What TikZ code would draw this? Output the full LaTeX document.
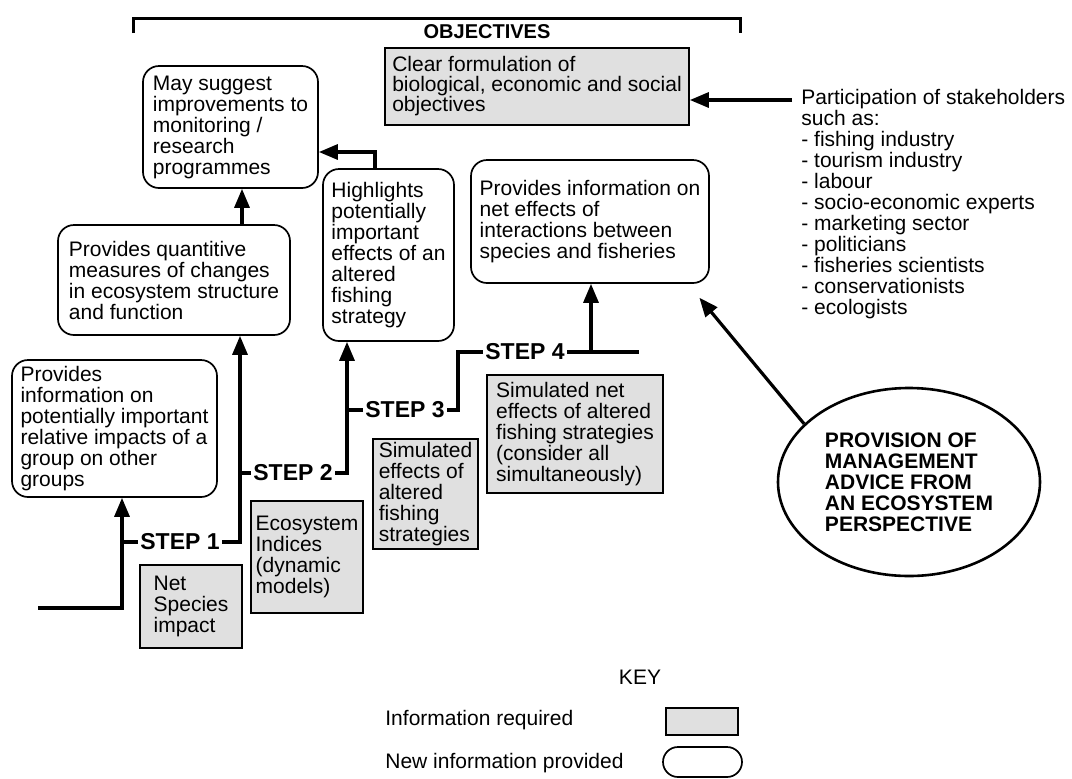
\documentclass[tikz,border=0pt]{standalone}
\usepackage{fontspec}
\setmainfont{Liberation Sans}
\usetikzlibrary{arrows.meta,shapes.geometric}

\begin{document}
\begin{tikzpicture}[
  x=0.5pt, y=-0.5pt,
  font=\fontsize{10.5}{10.5}\selectfont,
  newinfo/.style={draw, line width=0.85pt, rounded corners=8pt, align=left, inner sep=1pt},
  needinfo/.style={draw, line width=0.85pt, fill=black!12, align=left, inner sep=1pt},
  steplabel/.style={font=\fontsize{11.5}{12}\selectfont\bfseries, inner sep=1pt},
  link/.style={line width=1.6pt},
  flow/.style={link, -{Triangle[length=9.5pt,width=7.5pt]}}
]
\useasboundingbox (0,0) rectangle (1072,778);

% objectives bracket
\draw[line width=1.5pt] (133,33) |- (740,18) -- (740,33);
\node[font=\fontsize{10}{10}\selectfont\bfseries] (objtitle) at (487,32) {OBJECTIVES};

% new information (rounded boxes)
\node[newinfo, minimum width=87.5pt, minimum height=61pt] (improve) at (230.5,127)
  {May suggest\\improvements to\\monitoring /\\research\\programmes};
\node[newinfo, minimum width=116pt, minimum height=55pt] (quant) at (174,280)
  {Provides quantitive\\measures of changes\\in ecosystem structure\\and function};
\node[newinfo, minimum width=102.5pt, minimum height=68.5pt] (groupimp) at (114.5,428.5)
  {Provides\\information on\\potentially important\\relative impacts of a\\group on other\\groups};
\node[newinfo, minimum width=65.5pt, minimum height=86pt] (highlight) at (388.5,255)
  {Highlights\\potentially\\important\\effects of an\\altered\\fishing\\strategy};
\node[newinfo, minimum width=119pt, minimum height=61.5pt] (neteffect) at (590,221.5)
  {Provides information on\\net effects of\\interactions between\\species and fisheries};

% information required (grey boxes)
\node[needinfo, minimum width=152pt, minimum height=38.5pt, font=\fontsize{10.5}{10}\selectfont] (objectives) at (537,86.5)
  {Clear formulation of\\biological, economic and social\\objectives};
\node[needinfo, minimum width=51pt, minimum height=41.5pt] (netspecies) at (191,606.5)
  {Net\\Species\\impact};
\node[needinfo, minimum width=56pt, minimum height=56pt] (ecoind) at (307,557)
  {Ecosystem\\Indices\\(dynamic\\models)};
\node[needinfo, minimum width=52.5pt, minimum height=55pt] (simeff) at (425.5,494)
  {Simulated\\effects of\\altered\\fishing\\strategies};
\node[needinfo, minimum width=88pt, minimum height=59pt] (simnet) at (575,434)
  {Simulated net\\effects of altered\\fishing strategies\\(consider all\\simultaneously)};

% stakeholders
\node[anchor=north west, align=left, inner xsep=4.5pt, inner ysep=0pt] (stake) at (792,89)
  {Participation of stakeholders\\such as:\\- fishing industry\\- tourism industry\\- labour\\
   - socio-economic experts\\- marketing sector\\- politicians\\- fisheries scientists\\
   - conservationists\\- ecologists};

\node[ellipse, draw, line width=1.3pt, minimum width=131pt, minimum height=94pt, inner sep=0pt, align=left,
      font=\fontsize{10.5}{10.5}\selectfont\bfseries] (advice) at (909,482)
  {PROVISION OF\\MANAGEMENT\\ADVICE FROM\\AN ECOSYSTEM\\PERSPECTIVE};

% the staircase of steps
\node[steplabel] (step1) at (180,542) {STEP 1};
\node[steplabel] (step2) at (293,473) {STEP 2};
\node[steplabel] (step3) at (405,410) {STEP 3};
\node[steplabel] (step4) at (525,352) {STEP 4};

\coordinate (s0) at (38,608);
\coordinate (s1) at (122,542);
\coordinate (s2) at (240,473);
\coordinate (s3) at (347,410);
\coordinate (s4) at (458,352);
\coordinate (s5) at (591,352);
\coordinate (s6) at (639,352);

\draw[flow] (s0) -| (s1 |- groupimp.south);
\draw[link] (s1) -- (step1.west);
\draw[flow] (step1.east) -| (s2 |- quant.south);
\draw[link] (s2) -- (step2.west);
\draw[flow] (step2.east) -| (s3 |- highlight.south);
\draw[link] (s3) -- (step3.west);
\draw[link] (step3.east) -| (s4) -- (step4.west);
\draw[link] (step4.east) -- (s6);
\draw[flow] (s5) -- (s5 |- neteffect.south);

% feedback to monitoring
\coordinate (q) at (242,200);
\coordinate (h) at (375,152);
\draw[flow] (q |- quant.north) -- (q |- improve.south);
\draw[flow] (h |- highlight.north) |- (improve.east |- h);

% stakeholders and advice
\coordinate (p) at (0,100);
\draw[flow] (stake.west |- p) -- (objectives.east |- p);
\draw[flow, shorten >=9pt] (advice.151) -- ([xshift=-11pt]neteffect.south east);

% key
\node (keytitle) at (640,677) {KEY};
\node[anchor=west, inner sep=0pt] (keyneedtext) at (385,720) {Information required};
\node[needinfo, minimum width=36pt, minimum height=13.5pt] (keyneed) at (702,721.5) {};
\node[anchor=west, inner sep=0pt] (keynewtext) at (385,763) {New information provided};
\node[newinfo, minimum width=39.5pt, minimum height=15pt, rounded corners=7.5pt] (keynew) at (702.5,762) {};
\end{tikzpicture}
\end{document}
